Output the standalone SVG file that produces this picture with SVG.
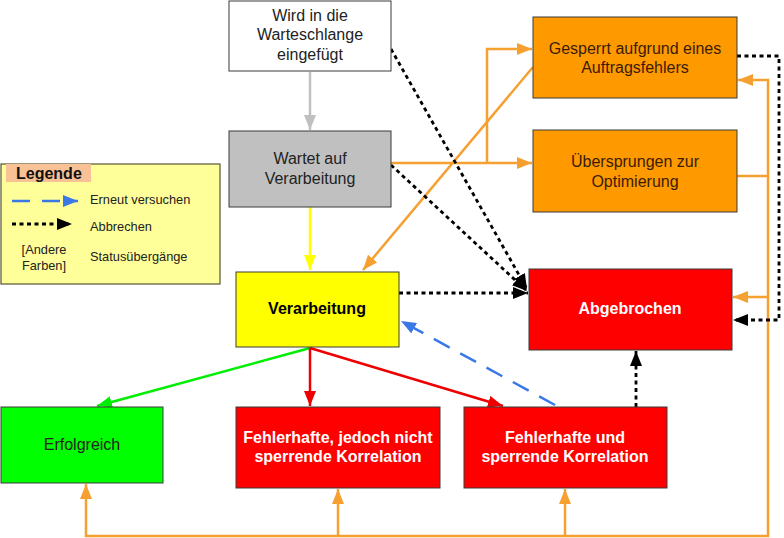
<svg xmlns="http://www.w3.org/2000/svg" width="784" height="538" viewBox="0 0 784 538">
<style>
.n{stroke:#3a3a3a;stroke-width:1}
.t{font-family:"Liberation Sans",Arial,sans-serif;font-size:16px;text-anchor:middle}
.dk{fill:#222}
.br{fill:#3a1c06}
.wb{fill:#fff;font-weight:bold}
.c{fill:none;stroke-width:2.5}
.or{stroke:#f5a030}
.bk{stroke:#000;stroke-width:2.8;stroke-dasharray:4 3.5}
.bl{stroke:#3a78e8;stroke-dasharray:18 12}
.lg{font-family:"Liberation Sans",Arial,sans-serif;font-size:12.8px;fill:#222}
</style>
<defs>
<marker id="aO" markerUnits="userSpaceOnUse" markerWidth="16" markerHeight="12" refX="15" refY="6" orient="auto"><path d="M0,0 L15,6 L0,12 z" fill="#f5a030"/></marker>
<marker id="aK" markerUnits="userSpaceOnUse" markerWidth="16" markerHeight="12" refX="15" refY="6" orient="auto"><path d="M0,0 L15,6 L0,12 z" fill="#000"/></marker>
<marker id="aB" markerUnits="userSpaceOnUse" markerWidth="16" markerHeight="12" refX="15" refY="6" orient="auto"><path d="M0,0 L15,6 L0,12 z" fill="#3a78e8"/></marker>
<marker id="aG" markerUnits="userSpaceOnUse" markerWidth="16" markerHeight="12" refX="15" refY="6" orient="auto"><path d="M0,0 L15,6 L0,12 z" fill="#00ee00"/></marker>
<marker id="aR" markerUnits="userSpaceOnUse" markerWidth="16" markerHeight="12" refX="15" refY="6" orient="auto"><path d="M0,0 L15,6 L0,12 z" fill="#ee0000"/></marker>
<marker id="aY" markerUnits="userSpaceOnUse" markerWidth="16" markerHeight="12" refX="15" refY="6" orient="auto"><path d="M0,0 L15,6 L0,12 z" fill="#ffff00"/></marker>
<marker id="aS" markerUnits="userSpaceOnUse" markerWidth="16" markerHeight="12" refX="15" refY="6" orient="auto"><path d="M0,0 L15,6 L0,12 z" fill="#c0c0c0"/></marker>
</defs>
<rect width="784" height="538" fill="#fff"/>

<g id="connectors">
<line class="c" x1="310" y1="72" x2="310" y2="130" stroke="#c0c0c0" marker-end="url(#aS)"/>
<line class="c" x1="310" y1="207" x2="310" y2="270" stroke="#ffff00" marker-end="url(#aY)"/>
<line class="c or" x1="391" y1="163" x2="532" y2="163" marker-end="url(#aO)"/>
<polyline class="c or" points="487,163 487,49 532,49" marker-end="url(#aO)"/>
<line class="c or" x1="533" y1="67" x2="363" y2="270" marker-end="url(#aO)"/>
<polyline class="c or" points="737,176 768,176 768,80 738,80" marker-end="url(#aO)"/>
<polyline class="c or" points="768,176 768,297 733,297" marker-end="url(#aO)"/>
<polyline class="c or" points="768,297 768,536 86,536 86,484" marker-end="url(#aO)"/>
<line class="c or" x1="338" y1="536" x2="338" y2="489" marker-end="url(#aO)"/>
<line class="c or" x1="565" y1="536" x2="565" y2="489" marker-end="url(#aO)"/>
<polyline class="c bk" points="737,56 779,56 779,320 733,320" marker-end="url(#aK)"/>
<line class="c bk" x1="391" y1="49" x2="527" y2="289" marker-end="url(#aK)"/>
<line class="c bk" x1="391" y1="165" x2="527" y2="291" marker-end="url(#aK)"/>
<line class="c bk" x1="399" y1="293" x2="528" y2="293" marker-end="url(#aK)"/>
<line class="c bk" x1="636" y1="407" x2="636" y2="351" marker-end="url(#aK)"/>
<line class="c bl" x1="555" y1="405" x2="401" y2="321" marker-end="url(#aB)"/>
<line class="c" x1="310" y1="348" x2="97" y2="406" stroke="#00ee00" marker-end="url(#aG)"/>
<line class="c" x1="310" y1="348" x2="310" y2="406" stroke="#ee0000" marker-end="url(#aR)"/>
<line class="c" x1="310" y1="348" x2="503" y2="406" stroke="#ee0000" marker-end="url(#aR)"/>
</g>

<g id="n-eingefuegt"><rect class="n" x="229" y="1" width="162" height="70" fill="#fff"/>
<text class="t dk" x="310" y="21">Wird in die</text><text class="t dk" x="310" y="40">Warteschlange</text><text class="t dk" x="310" y="60">eingefügt</text></g>
<g id="n-wartet"><rect class="n" x="229" y="131" width="162" height="76" fill="#c0c0c0"/>
<text class="t dk" x="310" y="164">Wartet auf</text><text class="t dk" x="310" y="184">Verarbeitung</text></g>
<g id="n-verarbeitung"><rect class="n" x="236" y="272" width="163" height="75" fill="#ffff00"/>
<text class="t" x="317" y="314" font-weight="bold" fill="#000">Verarbeitung</text></g>
<g id="n-gesperrt"><rect class="n" x="533" y="17" width="204" height="81" fill="#ff9900"/>
<text class="t br" x="635" y="54">Gesperrt aufgrund eines</text><text class="t br" x="635" y="73">Auftragsfehlers</text></g>
<g id="n-uebersprungen"><rect class="n" x="533" y="130" width="204" height="82" fill="#ff9900"/>
<text class="t br" x="635" y="167">Übersprungen zur</text><text class="t br" x="635" y="187">Optimierung</text></g>
<g id="n-abgebrochen"><rect class="n" x="529" y="269" width="203" height="81" fill="#ff0000"/>
<text class="t wb" x="630" y="314">Abgebrochen</text></g>
<g id="n-erfolgreich"><rect class="n" x="1" y="407" width="162" height="76" fill="#00ff00"/>
<text class="t dk" x="82" y="450">Erfolgreich</text></g>
<g id="n-nichtsperrend"><rect class="n" x="236" y="407" width="204" height="81" fill="#ff0000"/>
<text class="t wb" x="338" y="443">Fehlerhafte, jedoch nicht</text><text class="t wb" x="338" y="462">sperrende Korrelation</text></g>
<g id="n-sperrend"><rect class="n" x="464" y="407" width="203" height="81" fill="#ff0000"/>
<text class="t wb" x="565" y="443">Fehlerhafte und</text><text class="t wb" x="565" y="462">sperrende Korrelation</text></g>

<g id="legend">
<rect x="1" y="164" width="219" height="120" fill="#ffff99" stroke="#555533" stroke-width="1.2"/>
<rect x="6" y="164" width="85" height="18" fill="#f9c196"/>
<text x="16" y="179" font-family="Liberation Sans,Arial,sans-serif" font-size="16" font-weight="bold" fill="#111">Legende</text>
<line x1="12" y1="201" x2="78" y2="201" class="c bl" stroke-dasharray="21 14" marker-end="url(#aB)"/>
<line x1="12" y1="224" x2="72" y2="224" class="c bk" marker-end="url(#aK)"/>
<text class="lg" x="90" y="204">Erneut versuchen</text>
<text class="lg" x="90" y="231">Abbrechen</text>
<text class="lg" x="90" y="261">Statusübergänge</text>
<text class="lg" x="44" y="254" text-anchor="middle">[Andere</text>
<text class="lg" x="44" y="270" text-anchor="middle">Farben]</text>
</g>
</svg>
